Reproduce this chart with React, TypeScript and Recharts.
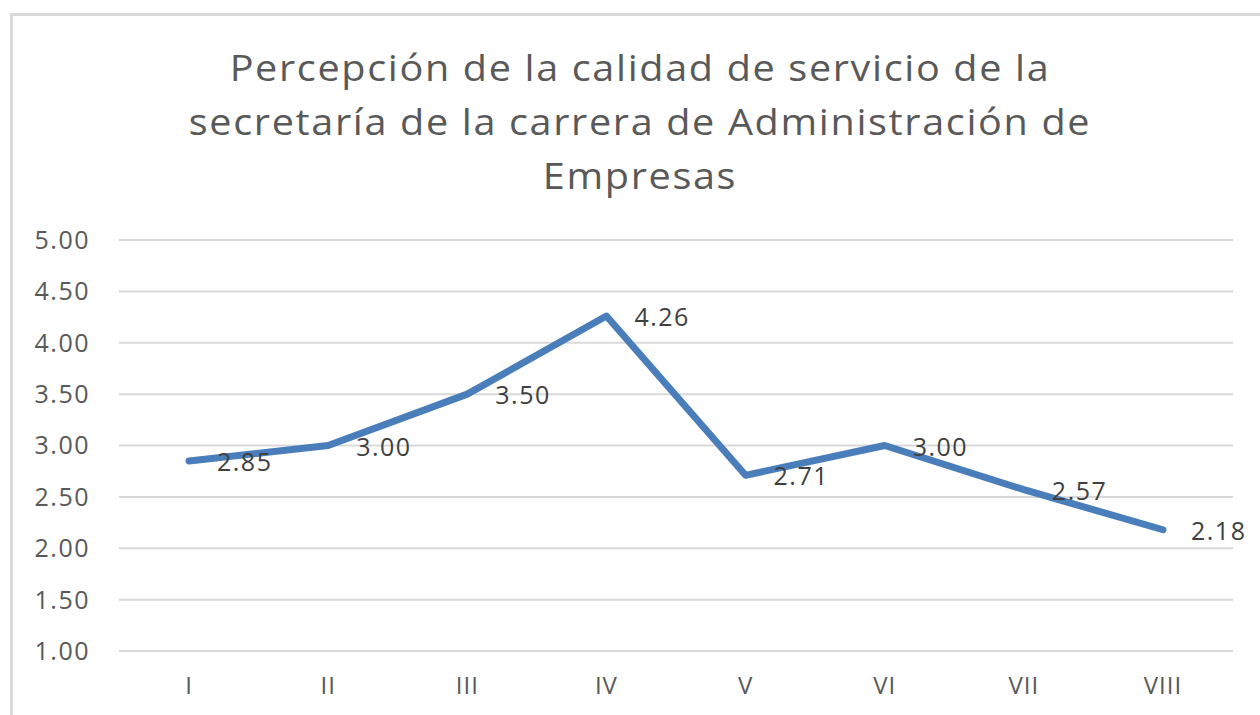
import React from 'react';
import { LineChart, Line, XAxis, YAxis, CartesianGrid, LabelList } from 'recharts';

const categories = ['I', 'II', 'III', 'IV', 'V', 'VI', 'VII', 'VIII'];
const values = [2.85, 3.0, 3.5, 4.26, 2.71, 3.0, 2.57, 2.18];
const yTicks = [1, 1.5, 2, 2.5, 3, 3.5, 4, 4.5, 5];
const titleLines = [
  'Percepción de la calidad de servicio de la',
  'secretaría de la carrera de Administración de',
  'Empresas',
];

const data = categories.map((c, i) => ({ name: c, value: values[i] }));

const FONT = '"Open Sans", "DejaVu Sans", sans-serif';

const renderLabel = (props: any) => {
  const { x, y, value } = props;
  return (
    <text
      x={x + 28}
      y={y}
      dominantBaseline="central"
      fill="#404040"
      fontSize={25}
      fontFamily={FONT}
      letterSpacing={1.5}
    >
      {Number(value).toFixed(2)}
    </text>
  );
};

export default function App() {
  return (
    <div style={{ position: 'absolute', left: 0, top: 0, width: 1260, height: 715, background: '#fff', overflow: 'hidden' }}>
      <div
        style={{
          position: 'absolute',
          left: 10,
          top: 13,
          width: 1300,
          height: 800,
          border: '3px solid #d9d9d9',
          boxSizing: 'border-box',
        }}
      />
      <div
        style={{
          position: 'absolute',
          left: 0,
          top: 41,
          width: 1280,
          textAlign: 'center',
          fontFamily: FONT,
          fontSize: 36,
          lineHeight: '54px',
          color: '#595959',
          letterSpacing: 1.5,
          transform: 'scaleX(1.1)',
          transformOrigin: '640px 0',
        }}
      >
        {titleLines.map((t, i) => (
          <div key={i}>{t}</div>
        ))}
      </div>
      <div style={{ position: 'absolute', left: 0, top: 0 }}>
        <LineChart width={1260} height={715} data={data} margin={{ top: 240, right: 27, bottom: 0, left: 0 }}>
          <CartesianGrid vertical={false} stroke="#d9d9d9" strokeWidth={2} />
          <XAxis
            dataKey="name"
            axisLine={false}
            tickLine={false}
            tickSize={0}
            tickMargin={26}
            height={64}
            padding={{ left: 70, right: 70 }}
            tick={{ fill: '#595959', fontSize: 24, fontFamily: FONT, letterSpacing: 1 }}
            interval={0}
          />
          <YAxis
            domain={[1, 5]}
            ticks={yTicks}
            interval={0}
            width={119}
            axisLine={false}
            tickLine={false}
            tickSize={0}
            tickMargin={29}
            tickFormatter={(v: number) => v.toFixed(2)}
            tick={{ fill: '#595959', fontSize: 25, fontFamily: FONT, letterSpacing: 1.5 }}
          />
          <Line
            type="linear"
            dataKey="value"
            stroke="#4a7ebb"
            strokeWidth={7}
            dot={false}
            activeDot={false}
            isAnimationActive={false}
            strokeLinejoin="round"
            strokeLinecap="round"
          >
            <LabelList dataKey="value" content={renderLabel} />
          </Line>
        </LineChart>
      </div>
    </div>
  );
}
